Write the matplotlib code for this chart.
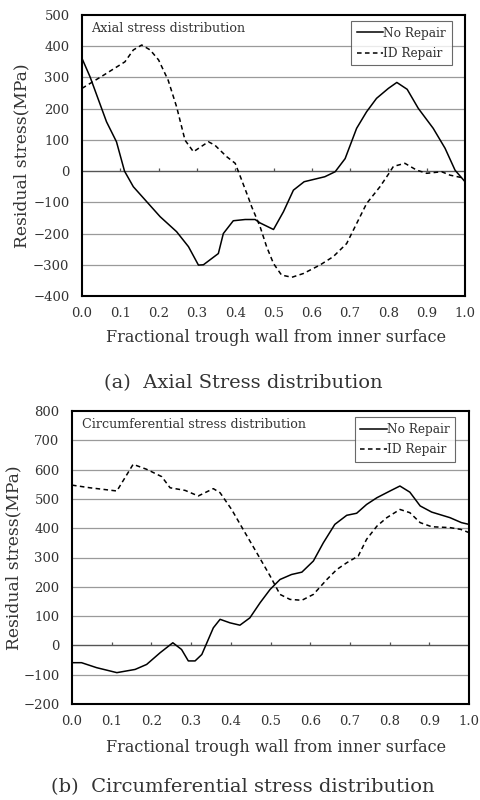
import matplotlib
matplotlib.use("Agg")
import matplotlib.pyplot as plt

plt.rcParams['font.family'] = ['DejaVu Serif']
plt.rcParams['axes.unicode_minus'] = True

# ---- data: (a) axial stress ----
ax_no_x = [0, 0.021, 0.064, 0.09, 0.111, 0.134, 0.169, 0.204, 0.247, 0.278, 0.304, 0.317,
           0.356, 0.369, 0.395, 0.426, 0.452, 0.465, 0.50, 0.526, 0.552, 0.58, 0.634, 0.661,
           0.687, 0.717, 0.743, 0.769, 0.80, 0.822, 0.849, 0.878, 0.917, 0.948, 0.974, 1.0]
ax_no_y = [361, 302, 158, 94, 0, -50, -98, -146, -194, -242, -301, -300,
           -264, -200, -159, -155, -155, -166, -187, -130, -61, -34, -18, -2,
           40, 137, 190, 233, 265, 284, 262, 201, 137, 73, 3, -34]
ax_id_x = [0, 0.056, 0.112, 0.134, 0.156, 0.178, 0.2, 0.225, 0.247, 0.269, 0.291, 0.33,
           0.347, 0.378, 0.4, 0.417, 0.435, 0.443, 0.465, 0.482, 0.5, 0.521, 0.548, 0.578,
           0.621, 0.656, 0.691, 0.717, 0.743, 0.778, 0.80, 0.813, 0.843, 0.874, 0.9, 0.939,
           0.961, 1.0]
ax_id_y = [265, 307, 350, 388, 404, 388, 356, 291, 206, 99, 62, 94,
           83, 46, 25, -29, -87, -114, -178, -242, -296, -333, -340, -328,
           -301, -274, -232, -168, -104, -50, -10, 15, 25, 3, -7, -2,
           -13, -23]

# ---- data: (b) circumferential stress ----
ci_no_x = [0, 0.024, 0.062, 0.113, 0.159, 0.188, 0.222, 0.254, 0.276, 0.293, 0.31, 0.327,
           0.356, 0.373, 0.398, 0.423, 0.448, 0.474, 0.499, 0.524, 0.553, 0.579, 0.608,
           0.633, 0.662, 0.692, 0.717, 0.742, 0.768, 0.801, 0.826, 0.851, 0.877, 0.906,
           0.952, 0.981, 1.0]
ci_no_y = [-59, -59, -76, -93, -82, -65, -25, 9, -14, -53, -53, -31,
           60, 89, 77, 69, 94, 146, 191, 225, 242, 250, 288,
           350, 413, 444, 451, 481, 504, 527, 544, 523, 476, 455,
           436, 419, 413]
ci_id_x = [0, 0.045, 0.113, 0.154, 0.188, 0.226, 0.247, 0.285, 0.318, 0.356, 0.373, 0.402,
           0.431, 0.465, 0.499, 0.524, 0.549, 0.579, 0.608, 0.642, 0.667, 0.692, 0.721,
           0.742, 0.768, 0.793, 0.826, 0.851, 0.877, 0.906, 0.952, 0.979, 1.0]
ci_id_y = [547, 538, 527, 618, 601, 576, 538, 529, 510, 535, 521, 464,
           396, 317, 237, 174, 157, 154, 174, 225, 259, 282, 305,
           362, 407, 436, 464, 453, 419, 405, 402, 396, 385]

xticks = [0.0, 0.1, 0.2, 0.3, 0.4, 0.5, 0.6, 0.7, 0.8, 0.9, 1.0]
xticklabels = ["0.0", "0.1", "0.2", "0.3", "0.4", "0.5", "0.6", "0.7", "0.8", "0.9", "1.0"]
yticks_a = [-400, -300, -200, -100, 0, 100, 200, 300, 400, 500]
yticks_b = [-200, -100, 0, 100, 200, 300, 400, 500, 600, 700, 800]

series_labels = ["No Repair", "ID Repair"]
xlabel = "Fractional trough wall from inner surface"
ylabel = "Residual stress(MPa)"
titles = ["Axial stress distribution", "Circumferential stress distribution"]
captions = ["(a)  Axial Stress distribution", "(b)  Circumferential stress distribution"]

W, H = 481, 800
TXT = '#333333'
fig = plt.figure(figsize=(W / 100, H / 100), dpi=100)


def rect_from_px(l, r, t, b):
    return [l / W, 1 - b / H, (r - l) / W, (b - t) / H]


def make_axes(rect, x_no, y_no, x_id, y_id, yticks, title, ylab_x, xlab_y, cap_y, caption):
    ax = fig.add_axes(rect)
    ax.set_xlim(0, 1)
    ax.set_ylim(yticks[0], yticks[-1])
    ax.set_yticks(yticks)
    ax.set_yticklabels([str(v).replace('-', '\u2212') for v in yticks])
    ax.set_xticks(xticks)
    ax.set_xticklabels(xticklabels)
    ax.tick_params(axis='y', length=0, pad=9, labelsize=9.5, colors=TXT)
    ax.tick_params(axis='x', length=0, pad=8, labelsize=9.5, colors=TXT)
    for v in yticks[1:-1]:
        ax.axhline(v, color='#9a9a9a', lw=0.9, zorder=1)
    ax.axhline(0, color='#555555', lw=0.9, zorder=1)
    ax.vlines(xticks[1:-1], 0, (yticks[-1] - yticks[0]) * 0.012, color='#555555', lw=0.9, zorder=1)
    for s in ax.spines.values():
        s.set_linewidth(1.5)
        s.set_color('black')
    l1, = ax.plot(x_no, y_no, color='black', lw=1.1, zorder=3, label=series_labels[0])
    l2, = ax.plot(x_id, y_id, color='black', lw=1.1, dashes=(3, 2.2), zorder=3, label=series_labels[1])
    ax.text(0.025, 0.975, title, transform=ax.transAxes, ha='left', va='top',
            fontsize=9.2, color=TXT)
    leg = ax.legend(handles=[l1, l2], loc='upper right', bbox_to_anchor=(0.965, 0.978),
                    fontsize=8.7, frameon=True, fancybox=False, edgecolor='#444444',
                    handlelength=2.2, handletextpad=0.0, borderpad=0.45, labelspacing=0.6,
                    borderaxespad=0.0)
    leg.get_frame().set_linewidth(0.8)
    for t in leg.get_texts():
        t.set_color(TXT)
    fig.text(ylab_x / W, rect[1] + rect[3] / 2, ylabel, rotation=90, ha='center',
             va='center', fontsize=12.3, color=TXT)
    fig.text(276 / W, 1 - xlab_y / H, xlabel, ha='center', va='center', fontsize=11.5,
             color=TXT)
    fig.text(243 / W, 1 - cap_y / H, caption, ha='center', va='center', fontsize=14,
             color=TXT)
    return ax


ax1 = make_axes(rect_from_px(82, 465, 15, 296), ax_no_x, ax_no_y, ax_id_x, ax_id_y,
                yticks_a, titles[0], 22, 337, 383, captions[0])
ax2 = make_axes(rect_from_px(72, 469, 411, 704), ci_no_x, ci_no_y, ci_id_x, ci_id_y,
                yticks_b, titles[1], 14, 748, 787, captions[1])

fig.savefig("out.png", dpi=100)
